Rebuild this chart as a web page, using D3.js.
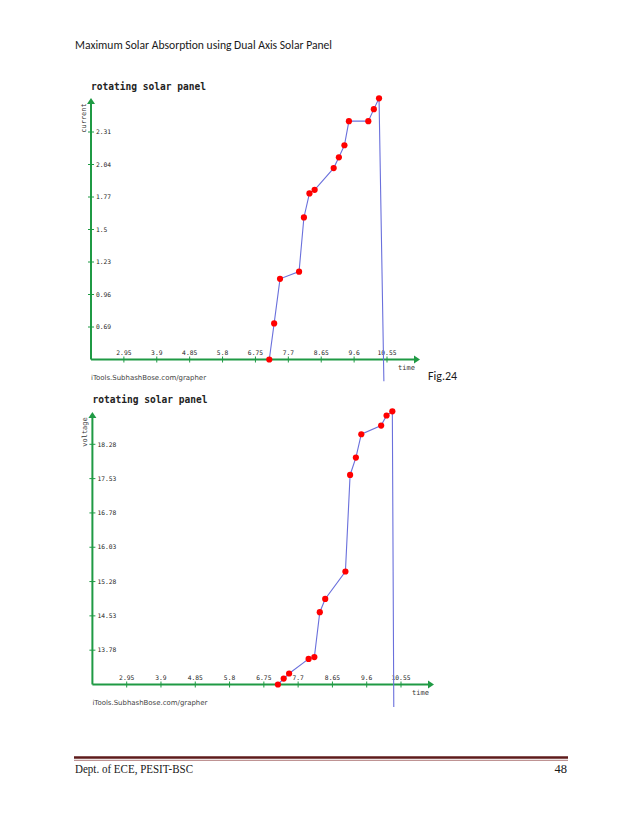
<!DOCTYPE html>
<html><head><meta charset="utf-8">
<script src="https://cdn.jsdelivr.net/npm/d3@7"></script>
<style>body{margin:0;background:#fff}svg{display:block}</style>
</head><body>
<svg id="page" width="638" height="826"></svg>
<script>
// ---- data ----
const pageHeader = "Maximum Solar Absorption using Dual Axis Solar Panel";
const footerLeft = "Dept. of ECE, PESIT-BSC";
const footerRight = "48";
const chartTitle = "rotating solar panel";
const creditText = "iTools.SubhashBose.com/grapher";
const xLabel = "time";
const xTicks = [2.95, 3.9, 4.85, 5.8, 6.75, 7.7, 8.65, 9.6, 10.55];

const currentTime = [7.15, 7.29, 7.46, 8.01, 8.15, 8.31, 8.46, 9.01, 9.16, 9.32, 9.45, 10.01, 10.17, 10.32, 10.46];
const currentVals = [0.42, 0.72, 1.09, 1.15, 1.60, 1.80, 1.83, 2.01, 2.10, 2.20, 2.40, 2.40, 2.50, 2.59, 0.24];
const currentTicks = [0.69, 0.96, 1.23, 1.5, 1.77, 2.04, 2.31];

const voltageTime = [7.14, 7.30, 7.45, 7.99, 8.15, 8.30, 8.45, 9.01, 9.14, 9.30, 9.45, 10.00, 10.15, 10.31, 10.35];
const voltageVals = [13.03, 13.16, 13.27, 13.59, 13.63, 14.61, 14.90, 15.50, 17.61, 17.99, 18.50, 18.69, 18.91, 19.00, 12.54];
const voltageTicks = ["13.78", "14.53", "15.28", "16.03", "16.78", "17.53", "18.28"];

const svg = d3.select("#page");
svg.append("rect").attr("width", 638).attr("height", 826).attr("fill", "#fff");

const GREEN = "#1f9a44", LINE = "#6a70dc", RED = "#ff0000";

// page header
svg.append("text").attr("x", 75).attr("y", 49)
  .attr("font-family", "Carlito, 'Liberation Sans Narrow', 'Open Sans', sans-serif")
  .attr("font-size", 12).attr("fill", "#1a1a1a")
  .attr("textLength", 257).attr("lengthAdjust", "spacingAndGlyphs")
  .text(pageHeader);

function drawChart(o) {
  const g = svg.append("g");
  const x = d3.scaleLinear().domain([2, 10.55]).range([o.x0, o.x1]);
  const y = d3.scaleLinear().domain([o.yMin, o.yTop]).range([o.yAxis, o.yTopPx]);
  const ticksY = o.yTicks.map(Number);

  // title
  g.append("text").attr("x", o.x0).attr("y", o.titleY)
    .attr("font-family", "'DejaVu Sans Mono', monospace").attr("font-weight", "bold")
    .attr("font-size", 10).attr("fill", "#222")
    .attr("textLength", 115).attr("lengthAdjust", "spacingAndGlyphs")
    .text(chartTitle);

  // y axis line + arrow
  g.append("line").attr("x1", o.x0).attr("x2", o.x0).attr("y1", o.yAxis).attr("y2", o.yArrow + 4)
    .attr("stroke", GREEN).attr("stroke-width", 2);
  g.append("path").attr("d", `M${o.x0 - 4},${o.yArrow + 6}L${o.x0},${o.yArrow}L${o.x0 + 4},${o.yArrow + 6}Z`).attr("fill", GREEN);
  // x axis line + arrow
  g.append("line").attr("x1", o.x0).attr("x2", o.xArrow - 4).attr("y1", o.yAxis).attr("y2", o.yAxis)
    .attr("stroke", GREEN).attr("stroke-width", 2);
  g.append("path").attr("d", `M${o.xArrow - 6},${o.yAxis - 4}L${o.xArrow},${o.yAxis}L${o.xArrow - 6},${o.yAxis + 4}Z`).attr("fill", GREEN);

  // y ticks
  const yt = g.selectAll(".yt").data(ticksY).join("g").attr("transform", d => `translate(${o.x0},${y(d)})`);
  yt.append("line").attr("x1", -3).attr("x2", 3).attr("stroke", GREEN).attr("stroke-width", 1);
  yt.append("text").attr("x", 5).attr("dy", "0.35em")
    .attr("font-family", "'DejaVu Sans Mono', monospace").attr("font-size", 6.3).attr("fill", "#222")
    .text((d, i) => o.yTicks[i]);

  // x ticks
  const xt = g.selectAll(".xt").data(xTicks).join("g").attr("transform", d => `translate(${x(d)},${o.yAxis})`);
  xt.append("line").attr("y1", -3).attr("y2", 3).attr("stroke", GREEN).attr("stroke-width", 1);
  xt.append("text").attr("y", -5).attr("text-anchor", "middle")
    .attr("font-family", "'DejaVu Sans Mono', monospace").attr("font-size", 6.3).attr("fill", "#222")
    .text(d => String(d));

  // axis labels
  g.append("text").attr("transform", `translate(${o.x0 - 5},${o.yLabelC}) rotate(-90)`)
    .attr("text-anchor", "middle")
    .attr("font-family", "'DejaVu Sans Mono', monospace").attr("font-size", 7).attr("fill", "#333")
    .text(o.yLabel);
  g.append("text").attr("x", o.xLabelX).attr("y", o.yAxis + 10)
    .attr("font-family", "'DejaVu Sans Mono', monospace").attr("font-size", 7).attr("fill", "#333")
    .text(xLabel);

  // credit
  g.append("text").attr("x", o.x0).attr("y", o.yAxis + 20)
    .attr("font-family", "'DejaVu Sans', sans-serif").attr("font-size", 7).attr("fill", "#444")
    .attr("textLength", 115).attr("lengthAdjust", "spacingAndGlyphs")
    .text(creditText);

  // data
  const pts = o.times.map((t, i) => ({t, v: o.vals[i]}));
  g.append("path").datum(pts)
    .attr("d", d3.line().x(d => x(d.t)).y(d => y(d.v)))
    .attr("fill", "none").attr("stroke", LINE).attr("stroke-width", 1.1);
  g.selectAll(".pt").data(pts.filter(d => d.v >= o.yMin - 0.01)).join("circle")
    .attr("cx", d => x(d.t)).attr("cy", d => y(d.v)).attr("r", 3.1).attr("fill", RED);
}

drawChart({
  x0: 91, x1: 387, xArrow: 420, yAxis: 359.5, yArrow: 98,
  yMin: 0.42, yTop: 2.31, yTopPx: 132,
  yTicks: currentTicks, times: currentTime, vals: currentVals,
  titleY: 90, yLabel: "current", yLabelC: 118, xLabelX: 398
});
drawChart({
  x0: 92.4, x1: 401, xArrow: 434, yAxis: 684.5, yArrow: 412,
  yMin: 13.03, yTop: 18.28, yTopPx: 444.3,
  yTicks: voltageTicks, times: voltageTime, vals: voltageVals,
  titleY: 403, yLabel: "voltage", yLabelC: 432, xLabelX: 412
});

// figure caption
svg.append("text").attr("x", 428).attr("y", 380)
  .attr("font-family", "Carlito, 'Liberation Sans Narrow', 'Open Sans', sans-serif")
  .attr("font-size", 12).attr("fill", "#1a1a1a").text("Fig.24");

// footer
svg.append("line").attr("x1", 74).attr("x2", 568).attr("y1", 757.5).attr("y2", 757.5)
  .attr("stroke", "#5e1b1b").attr("stroke-width", 2.5);
svg.append("line").attr("x1", 74).attr("x2", 568).attr("y1", 760.3).attr("y2", 760.3)
  .attr("stroke", "#b07a7a").attr("stroke-width", 1);
svg.append("text").attr("x", 75).attr("y", 773)
  .attr("font-family", "'Liberation Serif', serif").attr("font-size", 12.5).attr("fill", "#1a1a1a")
  .attr("textLength", 118).attr("lengthAdjust", "spacingAndGlyphs")
  .text(footerLeft);
svg.append("text").attr("x", 567).attr("y", 773).attr("text-anchor", "end")
  .attr("font-family", "'Liberation Serif', serif").attr("font-size", 12.5).attr("fill", "#1a1a1a")
  .text(footerRight);
</script>
</body></html>
